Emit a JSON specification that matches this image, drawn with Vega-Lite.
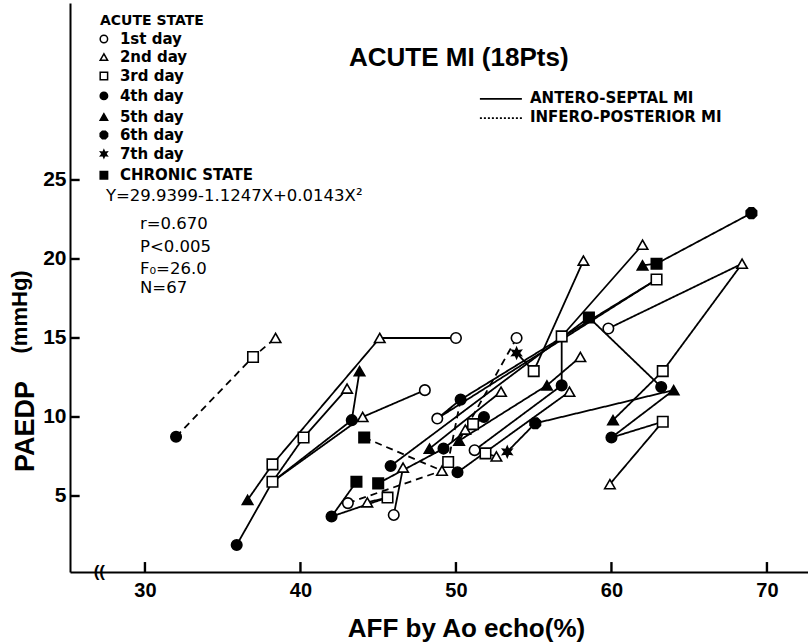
{
  "$schema": "https://vega.github.io/schema/vega-lite/v6.json",
  "width": 738,
  "height": 569,
  "autosize": "none",
  "padding": {"left": 70, "top": 3, "right": 0, "bottom": 70},
  "background": "white",
  "config": {"view": {"stroke": null}, "font": "Liberation Sans"},
  "datasets": {
    "pts": [
      {"x": 32.0, "y": 8.75, "day": "4th"},
      {"x": 36.95, "y": 13.8, "day": "3rd"},
      {"x": 38.4, "y": 15.0, "day": "2nd"},
      {"x": 50.0, "y": 15.0, "day": "1st"},
      {"x": 45.1, "y": 15.0, "day": "2nd"},
      {"x": 38.2, "y": 7.0, "day": "3rd"},
      {"x": 36.6, "y": 4.75, "day": "5th"},
      {"x": 35.9, "y": 1.9, "day": "4th"},
      {"x": 38.2, "y": 5.9, "day": "3rd"},
      {"x": 40.2, "y": 8.7, "day": "3rd"},
      {"x": 43.0, "y": 11.8, "day": "2nd"},
      {"x": 43.3, "y": 9.8, "day": "4th"},
      {"x": 43.8, "y": 12.9, "day": "5th"},
      {"x": 44.0, "y": 10.0, "day": "2nd"},
      {"x": 48.0, "y": 11.7, "day": "1st"},
      {"x": 44.1, "y": 8.7, "day": "chronic"},
      {"x": 49.1, "y": 6.6, "day": "2nd"},
      {"x": 45.8, "y": 6.9, "day": "4th"},
      {"x": 48.8, "y": 9.9, "day": "1st"},
      {"x": 50.3, "y": 11.1, "day": "4th"},
      {"x": 43.6, "y": 5.9, "day": "chronic"},
      {"x": 42.0, "y": 3.7, "day": "4th"},
      {"x": 45.0, "y": 5.8, "day": "chronic"},
      {"x": 43.05, "y": 4.55, "day": "1st"},
      {"x": 44.3, "y": 4.6, "day": "2nd"},
      {"x": 45.6, "y": 4.9, "day": "3rd"},
      {"x": 46.6, "y": 6.8, "day": "2nd"},
      {"x": 46.0, "y": 3.8, "day": "1st"},
      {"x": 48.3, "y": 8.0, "day": "5th"},
      {"x": 49.2, "y": 8.0, "day": "4th"},
      {"x": 50.2, "y": 8.5, "day": "5th"},
      {"x": 50.6, "y": 9.2, "day": "2nd"},
      {"x": 51.1, "y": 9.55, "day": "3rd"},
      {"x": 51.8, "y": 10.0, "day": "4th"},
      {"x": 53.9, "y": 15.0, "day": "1st"},
      {"x": 53.9, "y": 14.05, "day": "7th"},
      {"x": 55.0, "y": 12.9, "day": "3rd"},
      {"x": 52.9, "y": 11.6, "day": "2nd"},
      {"x": 51.2, "y": 7.9, "day": "1st"},
      {"x": 51.9, "y": 7.7, "day": "3rd"},
      {"x": 52.6, "y": 7.5, "day": "2nd"},
      {"x": 53.3, "y": 7.8, "day": "7th"},
      {"x": 49.5, "y": 7.15, "day": "3rd"},
      {"x": 50.1, "y": 6.5, "day": "4th"},
      {"x": 55.1, "y": 9.6, "day": "6th"},
      {"x": 55.85, "y": 12.0, "day": "5th"},
      {"x": 56.8, "y": 12.0, "day": "4th"},
      {"x": 57.3, "y": 11.6, "day": "2nd"},
      {"x": 58.0, "y": 13.8, "day": "2nd"},
      {"x": 56.8, "y": 15.1, "day": "3rd"},
      {"x": 58.2, "y": 19.9, "day": "2nd"},
      {"x": 62.0, "y": 20.9, "day": "2nd"},
      {"x": 62.0, "y": 19.6, "day": "5th"},
      {"x": 62.9, "y": 19.7, "day": "chronic"},
      {"x": 62.9, "y": 18.7, "day": "3rd"},
      {"x": 69.0, "y": 22.9, "day": "6th"},
      {"x": 68.4, "y": 19.7, "day": "2nd"},
      {"x": 58.55, "y": 16.3, "day": "chronic"},
      {"x": 59.8, "y": 15.6, "day": "1st"},
      {"x": 63.3, "y": 12.9, "day": "3rd"},
      {"x": 63.2, "y": 11.9, "day": "4th"},
      {"x": 64.0, "y": 11.7, "day": "5th"},
      {"x": 60.1, "y": 9.8, "day": "5th"},
      {"x": 60.0, "y": 8.7, "day": "4th"},
      {"x": 63.3, "y": 9.7, "day": "3rd"},
      {"x": 59.9, "y": 5.75, "day": "2nd"}
    ],
    "lines": [
      {"id": "A", "s": 1, "x": 32.0, "y": 8.75, "mi": "inf"},
      {"id": "A", "s": 2, "x": 36.95, "y": 13.8, "mi": "inf"},
      {"id": "A", "s": 3, "x": 38.4, "y": 15.0, "mi": "inf"},
      {"id": "B", "s": 1, "x": 50.0, "y": 15.0, "mi": "ant"},
      {"id": "B", "s": 2, "x": 45.1, "y": 15.0, "mi": "ant"},
      {"id": "B", "s": 3, "x": 38.2, "y": 7.0, "mi": "ant"},
      {"id": "B", "s": 4, "x": 36.6, "y": 4.75, "mi": "ant"},
      {"id": "C", "s": 1, "x": 35.9, "y": 1.9, "mi": "ant"},
      {"id": "C", "s": 2, "x": 38.2, "y": 5.9, "mi": "ant"},
      {"id": "C", "s": 3, "x": 40.2, "y": 8.7, "mi": "ant"},
      {"id": "C", "s": 4, "x": 43.0, "y": 11.8, "mi": "ant"},
      {"id": "D", "s": 1, "x": 38.2, "y": 5.9, "mi": "ant"},
      {"id": "D", "s": 2, "x": 43.3, "y": 9.8, "mi": "ant"},
      {"id": "D", "s": 3, "x": 43.8, "y": 12.9, "mi": "ant"},
      {"id": "E", "s": 1, "x": 38.2, "y": 5.9, "mi": "ant"},
      {"id": "E", "s": 2, "x": 44.0, "y": 10.0, "mi": "ant"},
      {"id": "E", "s": 3, "x": 48.0, "y": 11.7, "mi": "ant"},
      {"id": "F", "s": 1, "x": 44.1, "y": 8.7, "mi": "inf"},
      {"id": "F", "s": 2, "x": 49.1, "y": 6.6, "mi": "inf"},
      {"id": "G", "s": 1, "x": 45.8, "y": 6.9, "mi": "ant"},
      {"id": "G", "s": 2, "x": 58.55, "y": 16.3, "mi": "ant"},
      {"id": "G", "s": 3, "x": 63.2, "y": 11.9, "mi": "ant"},
      {"id": "H", "s": 1, "x": 50.3, "y": 11.1, "mi": "ant"},
      {"id": "H", "s": 2, "x": 48.8, "y": 9.9, "mi": "ant"},
      {"id": "H", "s": 3, "x": 62.9, "y": 18.7, "mi": "ant"},
      {"id": "H2", "s": 1, "x": 50.3, "y": 11.1, "mi": "ant"},
      {"id": "H2", "s": 2, "x": 62.9, "y": 18.7, "mi": "ant"},
      {"id": "I", "s": 1, "x": 43.6, "y": 5.9, "mi": "ant"},
      {"id": "I", "s": 2, "x": 42.0, "y": 3.7, "mi": "ant"},
      {"id": "I", "s": 3, "x": 45.6, "y": 4.9, "mi": "ant"},
      {"id": "J", "s": 1, "x": 43.05, "y": 4.55, "mi": "inf"},
      {"id": "J", "s": 2, "x": 49.1, "y": 6.6, "mi": "inf"},
      {"id": "K", "s": 1, "x": 44.3, "y": 4.6, "mi": "ant"},
      {"id": "K", "s": 2, "x": 45.6, "y": 4.9, "mi": "ant"},
      {"id": "L", "s": 1, "x": 46.0, "y": 3.8, "mi": "ant"},
      {"id": "L", "s": 2, "x": 46.6, "y": 6.8, "mi": "ant"},
      {"id": "M", "s": 1, "x": 45.0, "y": 5.8, "mi": "ant"},
      {"id": "M", "s": 2, "x": 49.2, "y": 8.0, "mi": "ant"},
      {"id": "M", "s": 3, "x": 51.8, "y": 10.0, "mi": "ant"},
      {"id": "N", "s": 1, "x": 53.9, "y": 15.0, "mi": "inf"},
      {"id": "N", "s": 2, "x": 50.2, "y": 8.5, "mi": "inf"},
      {"id": "N2", "s": 1, "x": 50.3, "y": 11.1, "mi": "inf"},
      {"id": "N2", "s": 2, "x": 49.5, "y": 7.15, "mi": "inf"},
      {"id": "O", "s": 1, "x": 53.9, "y": 14.05, "mi": "ant"},
      {"id": "O", "s": 2, "x": 55.0, "y": 12.9, "mi": "ant"},
      {"id": "O", "s": 3, "x": 58.2, "y": 19.9, "mi": "ant"},
      {"id": "P", "s": 1, "x": 62.0, "y": 20.9, "mi": "ant"},
      {"id": "P", "s": 2, "x": 56.8, "y": 15.1, "mi": "ant"},
      {"id": "P", "s": 3, "x": 56.8, "y": 12.0, "mi": "ant"},
      {"id": "Q", "s": 1, "x": 69.0, "y": 22.9, "mi": "ant"},
      {"id": "Q", "s": 2, "x": 62.9, "y": 19.7, "mi": "ant"},
      {"id": "Q", "s": 3, "x": 62.0, "y": 19.6, "mi": "ant"},
      {"id": "R", "s": 1, "x": 59.8, "y": 15.6, "mi": "ant"},
      {"id": "R", "s": 2, "x": 68.4, "y": 19.7, "mi": "ant"},
      {"id": "R", "s": 3, "x": 63.3, "y": 12.9, "mi": "ant"},
      {"id": "R", "s": 4, "x": 60.1, "y": 9.8, "mi": "ant"},
      {"id": "T", "s": 1, "x": 64.0, "y": 11.7, "mi": "ant"},
      {"id": "T", "s": 2, "x": 60.0, "y": 8.7, "mi": "ant"},
      {"id": "T", "s": 3, "x": 63.3, "y": 9.7, "mi": "ant"},
      {"id": "T", "s": 4, "x": 59.9, "y": 5.75, "mi": "ant"},
      {"id": "U", "s": 1, "x": 53.3, "y": 7.8, "mi": "ant"},
      {"id": "U", "s": 2, "x": 55.1, "y": 9.6, "mi": "ant"},
      {"id": "U", "s": 3, "x": 64.0, "y": 11.7, "mi": "ant"},
      {"id": "X1", "s": 1, "x": 58.0, "y": 13.8, "mi": "ant"},
      {"id": "X1", "s": 2, "x": 55.85, "y": 12.0, "mi": "ant"},
      {"id": "X1", "s": 3, "x": 50.2, "y": 8.5, "mi": "ant"},
      {"id": "X2", "s": 1, "x": 56.8, "y": 12.0, "mi": "ant"},
      {"id": "X2", "s": 2, "x": 51.2, "y": 7.9, "mi": "ant"},
      {"id": "X3", "s": 1, "x": 57.3, "y": 11.6, "mi": "ant"},
      {"id": "X3", "s": 2, "x": 50.1, "y": 6.5, "mi": "ant"},
      {"id": "X4", "s": 1, "x": 51.9, "y": 7.7, "mi": "ant"},
      {"id": "X4", "s": 2, "x": 52.6, "y": 7.5, "mi": "ant"},
      {"id": "X5", "s": 1, "x": 48.3, "y": 8.0, "mi": "ant"},
      {"id": "X5", "s": 2, "x": 52.9, "y": 11.6, "mi": "ant"}
    ],
    "legend": [
      {"x": 27.36, "y": 33.92, "day": "1st", "label": "1st day"},
      {"x": 27.36, "y": 32.78, "day": "2nd", "label": "2nd day"},
      {"x": 27.36, "y": 31.58, "day": "3rd", "label": "3rd day"},
      {"x": 27.36, "y": 30.32, "day": "4th", "label": "4th day"},
      {"x": 27.36, "y": 28.99, "day": "5th", "label": "5th day"},
      {"x": 27.36, "y": 27.85, "day": "6th", "label": "6th day"},
      {"x": 27.36, "y": 26.65, "day": "7th", "label": "7th day"},
      {"x": 27.36, "y": 25.3, "day": "chronic", "label": "CHRONIC STATE"}
    ],
    "bold": [
      {"x": 27.11, "y": 35.06, "t": "ACUTE STATE", "sz": 14},
      {"x": 54.76, "y": 30.19, "t": "ANTERO-SEPTAL  MI", "sz": 15},
      {"x": 54.76, "y": 28.99, "t": "INFERO-POSTERIOR  MI", "sz": 15}
    ],
    "misc": [
      {"x": 43.12, "y": 32.72, "t": "ACUTE   MI  (18Pts)", "sz": 26},
      {"x": 26.7, "y": 0.19, "t": "((", "sz": 17}
    ],
    "plain": [
      {"x": 27.49, "y": 23.99, "t": "Y=29.9399-1.1247X+0.0143X²"},
      {"x": 29.68, "y": 22.22, "t": "r=0.670"},
      {"x": 29.68, "y": 20.76, "t": "P<0.005"},
      {"x": 29.68, "y": 19.37, "t": "F₀=26.0"},
      {"x": 29.68, "y": 18.16, "t": "N=67"}
    ],
    "unit": [
      {"x": 21.95, "y": 16.65, "t": "(mmHg)"}
    ]
  },
  "layer": [
    {
      "data": {"name": "lines"},
      "mark": {"type": "line", "color": "black", "strokeWidth": 1.8},
      "encoding": {
        "x": {"field": "x", "type": "quantitative", "scale": {"domain": [25.18, 72.64], "nice": false, "zero": false},
          "axis": {"values": [30, 40, 50, 60, 70], "title": "AFF by Ao echo(%)", "grid": false, "domainColor": "black", "domainWidth": 2, "ticks": false, "labelPadding": 8, "labelFont": "Liberation Sans", "labelFontSize": 20, "labelFontWeight": "bold", "labelColor": "black", "titleFont": "Liberation Sans", "titleFontSize": 26, "titleFontWeight": "bold", "titleColor": "black", "titleX": 396, "titleY": 56, "titleAlign": "center", "titleBaseline": "middle"}},
        "y": {"field": "y", "type": "quantitative", "scale": {"domain": [0.19, 36.2], "nice": false, "zero": false},
          "axis": {"values": [5, 10, 15, 20, 25], "title": "PAEDP", "grid": false, "domainColor": "black", "domainWidth": 2, "ticks": false, "labelPadding": 4, "labelFont": "Liberation Sans", "labelFontSize": 21, "labelFontWeight": "bold", "labelColor": "black", "titleFont": "Liberation Sans", "titleFontSize": 27, "titleFontWeight": "bold", "titleColor": "black", "titleX": -45, "titleY": 423, "titleAngle": 270, "titleAlign": "center", "titleBaseline": "middle"}},
        "detail": {"field": "id"},
        "order": {"field": "s", "type": "quantitative"},
        "strokeDash": {"field": "mi", "type": "nominal", "scale": {"domain": ["ant", "inf"], "range": [[1, 0], [7, 5]]}, "legend": null}
      }
    },
    {
      "data": {"values": [
        {"tx": 30, "ta": 0.19, "tb": 0.82},
        {"tx": 40, "ta": 0.19, "tb": 0.82},
        {"tx": 50, "ta": 0.19, "tb": 0.82},
        {"tx": 60, "ta": 0.19, "tb": 0.82},
        {"tx": 70, "ta": 0.19, "tb": 0.82}
      ]},
      "mark": {"type": "rule", "color": "black", "strokeWidth": 2.4},
      "encoding": {
        "x": {"field": "tx", "type": "quantitative"},
        "y": {"field": "ta", "type": "quantitative"},
        "y2": {"field": "tb"}
      }
    },
    {
      "data": {"values": [
        {"ty": 5, "ta": 25.18, "tb": 25.8},
        {"ty": 10, "ta": 25.18, "tb": 25.8},
        {"ty": 15, "ta": 25.18, "tb": 25.8},
        {"ty": 20, "ta": 25.18, "tb": 25.8},
        {"ty": 25, "ta": 25.18, "tb": 25.8}
      ]},
      "mark": {"type": "rule", "color": "black", "strokeWidth": 2.4},
      "encoding": {
        "x": {"field": "ta", "type": "quantitative"},
        "x2": {"field": "tb"},
        "y": {"field": "ty", "type": "quantitative"}
      }
    },
    {
      "data": {"name": "pts"},
      "mark": {"type": "point", "filled": true, "stroke": "black", "strokeWidth": 1.6, "opacity": 1, "size": 110},
      "encoding": {
        "x": {"field": "x", "type": "quantitative"},
        "y": {"field": "y", "type": "quantitative"},
        "shape": {"field": "day", "type": "nominal", "legend": null, "scale": {"domain": ["1st", "2nd", "3rd", "4th", "5th", "6th", "7th", "chronic"], "range": ["circle", "triangle-up", "square", "circle", "triangle-up", "M-0.42,-1L0.42,-1L1,-0.42L1,0.42L0.42,1L-0.42,1L-1,0.42L-1,-0.42Z", "M0,-1L0.25,-0.43L0.87,-0.5L0.5,0L0.87,0.5L0.25,0.43L0,1L-0.25,0.43L-0.87,0.5L-0.5,0L-0.87,-0.5L-0.25,-0.43Z", "square"]}},
        "fill": {"field": "day", "type": "nominal", "legend": null, "scale": {"domain": ["1st", "2nd", "3rd", "4th", "5th", "6th", "7th", "chronic"], "range": ["white", "white", "white", "black", "black", "black", "black", "black"]}}
      }
    },
    {
      "data": {"name": "legend"},
      "mark": {"type": "point", "filled": true, "stroke": "black", "strokeWidth": 1.5, "opacity": 1, "size": 55, "clip": false},
      "encoding": {
        "x": {"field": "x", "type": "quantitative"},
        "y": {"field": "y", "type": "quantitative"},
        "shape": {"field": "day", "type": "nominal", "legend": null},
        "fill": {"field": "day", "type": "nominal", "legend": null}
      }
    },
    {
      "data": {"name": "legend"},
      "mark": {"type": "text", "align": "left", "baseline": "middle", "dx": 16, "font": "DejaVu Sans", "fontSize": 15, "fontWeight": "bold", "color": "black", "clip": false},
      "encoding": {
        "x": {"field": "x", "type": "quantitative"},
        "y": {"field": "y", "type": "quantitative"},
        "text": {"field": "label"}
      }
    },
    {
      "data": {"name": "bold"},
      "mark": {"type": "text", "align": "left", "baseline": "middle", "font": "DejaVu Sans", "fontWeight": "bold", "color": "black", "clip": false},
      "encoding": {
        "x": {"field": "x", "type": "quantitative"},
        "y": {"field": "y", "type": "quantitative"},
        "text": {"field": "t"},
        "size": {"field": "sz", "type": "quantitative", "scale": null}
      }
    },
    {
      "data": {"name": "misc"},
      "mark": {"type": "text", "align": "left", "baseline": "middle", "font": "Liberation Sans", "fontWeight": "bold", "color": "black", "clip": false},
      "encoding": {
        "x": {"field": "x", "type": "quantitative"},
        "y": {"field": "y", "type": "quantitative"},
        "text": {"field": "t"},
        "size": {"field": "sz", "type": "quantitative", "scale": null}
      }
    },
    {
      "data": {"name": "plain"},
      "mark": {"type": "text", "align": "left", "baseline": "middle", "font": "DejaVu Sans", "fontSize": 16.5, "color": "black", "clip": false},
      "encoding": {
        "x": {"field": "x", "type": "quantitative"},
        "y": {"field": "y", "type": "quantitative"},
        "text": {"field": "t"}
      }
    },
    {
      "data": {"name": "unit"},
      "mark": {"type": "text", "align": "center", "baseline": "middle", "angle": 270, "fontSize": 22, "fontWeight": "bold", "color": "black", "clip": false},
      "encoding": {
        "x": {"field": "x", "type": "quantitative"},
        "y": {"field": "y", "type": "quantitative"},
        "text": {"field": "t"}
      }
    },
    {
      "data": {"values": [{"x": 51.54, "x2": 54.24, "y": 30.13}]},
      "mark": {"type": "rule", "color": "black", "strokeWidth": 1.8},
      "encoding": {
        "x": {"field": "x", "type": "quantitative"},
        "x2": {"field": "x2"},
        "y": {"field": "y", "type": "quantitative"}
      }
    },
    {
      "data": {"values": [{"x": 51.54, "x2": 54.24, "y": 28.92}]},
      "mark": {"type": "rule", "color": "black", "strokeWidth": 1.8, "strokeDash": [2, 2]},
      "encoding": {
        "x": {"field": "x", "type": "quantitative"},
        "x2": {"field": "x2"},
        "y": {"field": "y", "type": "quantitative"}
      }
    }
  ]
}
